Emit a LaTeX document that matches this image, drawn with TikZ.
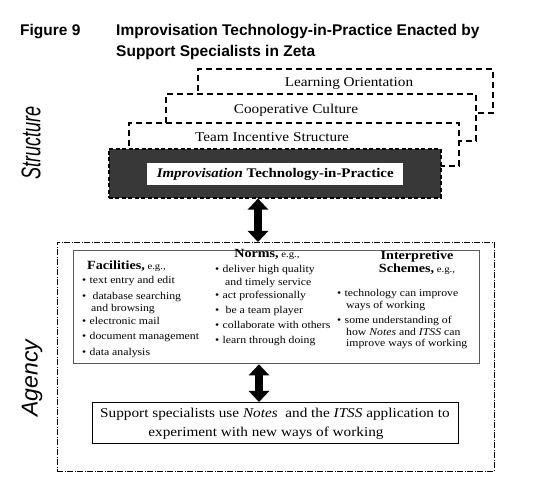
\documentclass[tikz,border=0pt]{standalone}
\usepackage{fontspec}
\setmainfont{Liberation Serif}[FakeStretch=1.13]
\newfontfamily\sansf{Liberation Sans}
\usetikzlibrary{arrows.meta}
\newcommand\bul{\makebox[7.5pt][l]{\textbullet}}
\newcommand\fsz[1]{\fontsize{#1}{#1}\selectfont}
\begin{document}
\begin{tikzpicture}[x=1pt,y=-1pt,
  layerbox/.style={draw, fill=white, line width=1.6pt, dash pattern=on 6pt off 4pt, inner sep=0pt, anchor=north west},
  darkbox/.style={draw=black, fill=black!78, line width=1.6pt, dash pattern=on 4pt off 2.5pt, inner sep=0pt, anchor=north west},
  lay/.style={font=\fsz{13.5}, anchor=base, inner sep=0pt},
  item/.style={font=\fsz{10.4}, anchor=base west, inner sep=0pt},
  head/.style={font=\fsz{12.5}\bfseries, anchor=base, inner sep=0pt},
  frame/.style={draw, inner sep=0pt, anchor=north west},
  bigarrow/.style={line width=7.5pt, {Triangle[length=11pt,width=20pt]}-{Triangle[length=11pt,width=20pt]}},
  side/.style={font=\sansf\itshape, rotate=90, inner sep=0pt},
  ttl/.style={font=\sansf\bfseries\fsz{15.5}, anchor=base west, inner sep=0pt}
]
\useasboundingbox (0,0) rectangle (542,494);
% title
\node[ttl] (fig) at (20,36) {Figure 9};
\node[ttl] (t1) at (116,36) {Improvisation Technology-in-Practice Enacted by};
\node[ttl] (t2) at (116,57) {Support Specialists in Zeta};
% side labels
\node[side] (structure) at (31,143) {\fsz{27}\scalebox{0.67}[1]{Structure}};
\node[side] (agencylab) at (32,378) {\fsz{23}Agency};
% stacked layers
\node[layerbox, minimum width=295pt, minimum height=44pt] (lo) at (197,68) {};
\node[lay] (lot) at (349,86.5) {Learning Orientation};
\node[layerbox, minimum width=310pt, minimum height=47pt] (cc) at (165,93) {};
\node[lay] (cct) at (296,113.5) {Cooperative Culture};
\node[layerbox, minimum width=330pt, minimum height=43pt] (ti) at (128,122) {};
\node[lay] (tit) at (272,141.5) {Team Incentive Structure};
\node[darkbox, minimum width=332pt, minimum height=49pt] (dark) at (108,148) {};
\node[fill=white, inner sep=0pt, minimum width=256pt, minimum height=22pt, anchor=north west, font=\fsz{13.2}\bfseries] (itp) at (147,163) {\textit{Improvisation} Technology-in-Practice};
% agency frame
\node[frame, line width=0.6pt, dash pattern=on 6pt off 1.5pt on 1pt off 1.5pt, minimum width=437pt, minimum height=229pt] (agency) at (57,242) {};
\node[frame, draw=black!65, line width=1.3pt, minimum width=406pt, minimum height=113pt] (inner) at (73,250) {};
\node[frame, line width=1.3pt, minimum width=366pt, minimum height=41pt] (bottom) at (92,402) {};
% facilities
\node[head, anchor=base west] (fh) at (87,269.5) {Facilities,\fsz{9.5}\mdseries\ e.g.,};
\foreach \t/\x/\y [count=\i] in {\bul text entry and edit/82/283.5, \bul\ database searching/82/299.5, and browsing/91/311.5, \bul electronic mail/82/324.5, \bul document management/82/339.5, \bul data analysis/82/355.5}
  \node[item] (f\i) at (\x,\y) {\t};
% norms
\node[head] (nh) at (267,257.5) {Norms,\fsz{9.5}\mdseries\ e.g.,};
\foreach \t/\x/\y [count=\i] in {\bul deliver high quality/215/272.5, and timely service/225/285.5, \bul act professionally/215/298.5, \bul\ be a team player/215/313.5, \bul collaborate with others/215/328.5, \bul learn through doing/215/343.5}
  \node[item] (n\i) at (\x,\y) {\t};
% interpretive schemes
\node[head] (ih1) at (417,259.5) {Interpretive};
\node[head] (ih2) at (417,272.5) {Schemes,\fsz{9.5}\mdseries\ e.g.,};
\foreach \t/\x/\y [count=\i] in {\bul technology can improve/337/296.5, ways of working/346/308.5, \bul some understanding of/337/323.5, how \textit{Notes} and \textit{ITSS} can/346/335.5, improve ways of working/346/346.5}
  \node[item] (s\i) at (\x,\y) {\t};
% bottom text
\node[lay] (b1) at (275,417.5) {Support specialists use \textit{Notes}\ \ and the \textit{ITSS} application to};
\node[lay] (b2) at (266,436.5) {experiment with new ways of working};
% arrows
\coordinate (ax1) at (258,0);
\coordinate (ax2) at (259,0);
\draw[bigarrow] (ax1 |- dark.south) -- (ax1 |- agency.north);
\draw[bigarrow] (ax2 |- inner.south) -- (ax2 |- bottom.north);
\end{tikzpicture}
\end{document}
